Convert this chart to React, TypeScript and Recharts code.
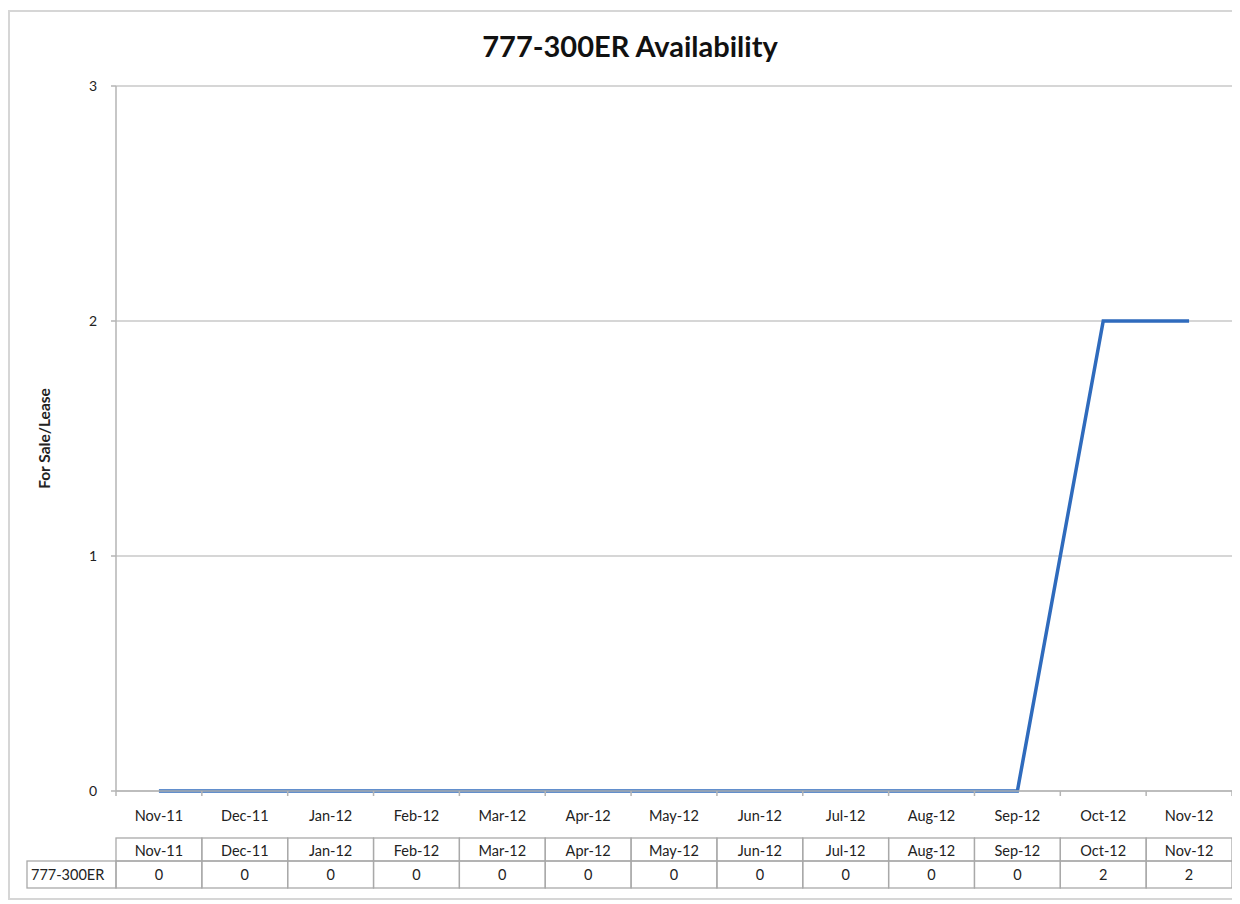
import { LineChart, Line, XAxis, YAxis, CartesianGrid, Label } from "recharts";

const months = [
  "Nov-11", "Dec-11", "Jan-12", "Feb-12", "Mar-12", "Apr-12", "May-12",
  "Jun-12", "Jul-12", "Aug-12", "Sep-12", "Oct-12", "Nov-12",
];
const availability = [0, 0, 0, 0, 0, 0, 0, 0, 0, 0, 0, 2, 2];
const seriesName = "777-300ER";
const yTicks = [0, 1, 2, 3];

const data = months.map((month, i) => ({ month, value: availability[i] }));

const W = 1225;
const H = 886;
const M = { top: 74, right: 3, bottom: 10, left: 56 };
const YW = 50;
const BAND = (W - M.left - M.right - YW) / months.length;
const HEAD_H = 23;
const ROW_H = 27;
const LABEL_W = 89;

const FONT = "Lato, 'Open Sans', sans-serif";
const AXIS = "#b4b4b4";
const GRID = "#c8c8c8";
const CELL = "#a9a9a9";
const TEXT = "#222";
const FS = 14.5;

const MonthTick = (props: any) => {
  const { x, y, payload, index } = props;
  const left = x - BAND / 2;
  return (
    <g>
      <line x1={left} x2={left} y1={y} y2={y + 5} stroke={AXIS} strokeWidth={1.5} />
      {index === months.length - 1 && (
        <line x1={x + BAND / 2} x2={x + BAND / 2} y1={y} y2={y + 5} stroke={AXIS} strokeWidth={1.5} />
      )}
      <text x={x} y={y + 24} textAnchor="middle" dominantBaseline="central" fontSize={FS} fill={TEXT} fontFamily={FONT}>
        {payload.value}
      </text>
    </g>
  );
};

const TableTick = (props: any) => {
  const { x, y, payload, index } = props;
  const left = x - BAND / 2;
  return (
    <g fontFamily={FONT} fontSize={FS} fill={TEXT}>
      <rect x={left} y={y} width={BAND} height={HEAD_H} fill="none" stroke={CELL} strokeWidth={1.3} />
      <text x={x} y={y + HEAD_H / 2 + 1} textAnchor="middle" dominantBaseline="central" fill={TEXT}>
        {payload.value}
      </text>
      <rect x={left} y={y + HEAD_H} width={BAND} height={ROW_H} fill="none" stroke={CELL} strokeWidth={1.3} />
      <text x={x} y={y + HEAD_H + ROW_H / 2} textAnchor="middle" dominantBaseline="central" fill={TEXT}>
        {availability[index]}
      </text>
      {index === 0 && (
        <g>
          <rect x={left - LABEL_W} y={y + HEAD_H} width={LABEL_W} height={ROW_H} fill="none" stroke={CELL} strokeWidth={1.3} />
          <text x={left - LABEL_W + 4} y={y + HEAD_H + ROW_H / 2} dominantBaseline="central" fill={TEXT}>
            {seriesName}
          </text>
        </g>
      )}
    </g>
  );
};

const YTitle = (props: any) => {
  const vb = props.viewBox;
  const cx = vb.x - 22;
  const cy = vb.y + vb.height / 2;
  return (
    <text
      x={cx}
      y={cy}
      transform={`rotate(-90 ${cx} ${cy})`}
      textAnchor="middle"
      dominantBaseline="central"
      fontSize={15.5}
      fontWeight={700}
      fill={TEXT}
      fontFamily={FONT}
    >
      For Sale/Lease
    </text>
  );
};

export default function App() {
  return (
    <div
      style={{
        position: "relative",
        marginTop: 2,
        width: W,
        height: H,
        border: "2px solid #d6d6d6",
        fontFamily: FONT,
        background: "#fff",
      }}
    >
      <div
        style={{
          position: "absolute",
          top: 19,
          left: 15,
          right: 0,
          height: 30,
          lineHeight: "30px",
          textAlign: "center",
          fontSize: 29,
          fontWeight: 700,
          color: "#111",
        }}
      >
        777-300ER Availability
      </div>
      <LineChart width={W} height={H} data={data} margin={M}>
        <CartesianGrid vertical={false} stroke={GRID} strokeWidth={1.5} />
        <XAxis
          dataKey="month"
          scale="band"
          interval={0}
          height={47}
          tickSize={0}
          tickMargin={0}
          tickLine={false}
          axisLine={{ stroke: AXIS, strokeWidth: 1.5 }}
          tick={<MonthTick />}
        />
        <XAxis
          xAxisId="table"
          dataKey="month"
          scale="band"
          interval={0}
          height={50}
          tickSize={0}
          tickMargin={0}
          tickLine={false}
          axisLine={false}
          tick={<TableTick />}
        />
        <YAxis
          domain={[0, 3]}
          ticks={yTicks}
          width={YW}
          tickSize={5}
          tickMargin={14}
          axisLine={{ stroke: AXIS, strokeWidth: 1.5 }}
          tickLine={{ stroke: AXIS, strokeWidth: 1.5 }}
          tick={{ fontSize: 14, fill: TEXT, fontFamily: FONT }}
        >
          <Label content={<YTitle />} />
        </YAxis>
        <Line
          type="linear"
          dataKey="value"
          name={seriesName}
          stroke="#2f6bbd"
          strokeWidth={3.5}
          dot={false}
          isAnimationActive={false}
        />
      </LineChart>
    </div>
  );
}
